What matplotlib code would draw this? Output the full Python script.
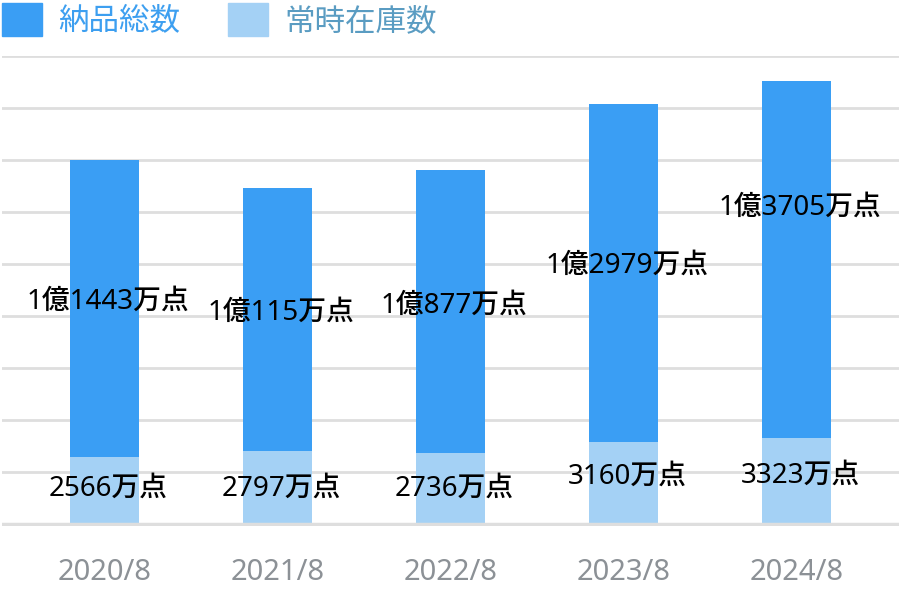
import matplotlib
matplotlib.use('Agg')
import matplotlib.pyplot as plt
from matplotlib.patches import Patch

plt.rcParams['font.family'] = ['Noto Sans', 'Noto Sans CJK JP', 'DejaVu Sans']

# values in 万点
periods = ['2020/8', '2021/8', '2022/8', '2023/8', '2024/8']
stock = [2566, 2797, 2736, 3160, 3323]          # 常時在庫数
delivered = [11443, 10115, 10877, 12979, 13705]  # 納品総数

# where the value labels sit (in 万点)
delivered_label_y = [8540, 8120, 8390, 9920, 12150]
stock_label_y = [1350, 1350, 1350, 1820, 1850]

dark = '#3a9ef4'
light = '#a4d1f5'

fig = plt.figure(figsize=(9.01, 6.01), dpi=100)
ax = fig.add_axes([2 / 901, 75 / 601, 897 / 901, 470 / 601])

x = range(len(periods))
ax.bar(x, stock, width=0.40, color=light, zorder=2, label='常時在庫数')
ax.bar(x, delivered, width=0.40, bottom=stock, color=dark, zorder=2, label='納品総数')

for g in range(2000, 18001, 2000):
    ax.axhline(g, color='#dedede', linewidth=2, zorder=1)
ax.axhline(0, color='#dedede', linewidth=2.5, zorder=3)

for i in x:
    ax.text(i + 0.02, delivered_label_y[i], f'1億{delivered[i] - 10000}万点',
            ha='center', va='center', fontsize=20, fontweight='medium',
            color='black', zorder=4)
    ax.text(i + 0.02, stock_label_y[i], f'{stock[i]}万点',
            ha='center', va='center', fontsize=20, fontweight='medium',
            color='black', zorder=4)

ax.set_xlim(-0.59, 4.59)
ax.set_ylim(-75, 18000)
ax.set_yticks([])
ax.set_xticks(list(x))
ax.set_xticklabels(periods, fontsize=21, color='#8c9196')
ax.tick_params(axis='x', length=0, pad=23)
for s in ax.spines.values():
    s.set_visible(False)

handles = [Patch(color=dark), Patch(color=light)]
leg = fig.legend(handles, ['納品総数', '常時在庫数'], loc='upper left',
                 bbox_to_anchor=(2 / 901, 1 - 3 / 601), ncol=2, frameon=False,
                 fontsize=22, handlelength=1.3, handleheight=1.3,
                 handletextpad=0.55, columnspacing=1.55, borderpad=0,
                 borderaxespad=0)
leg.get_texts()[0].set_color('#3d9ff0')
leg.get_texts()[1].set_color('#5a9cc2')

fig.savefig('out.png', dpi=100)
